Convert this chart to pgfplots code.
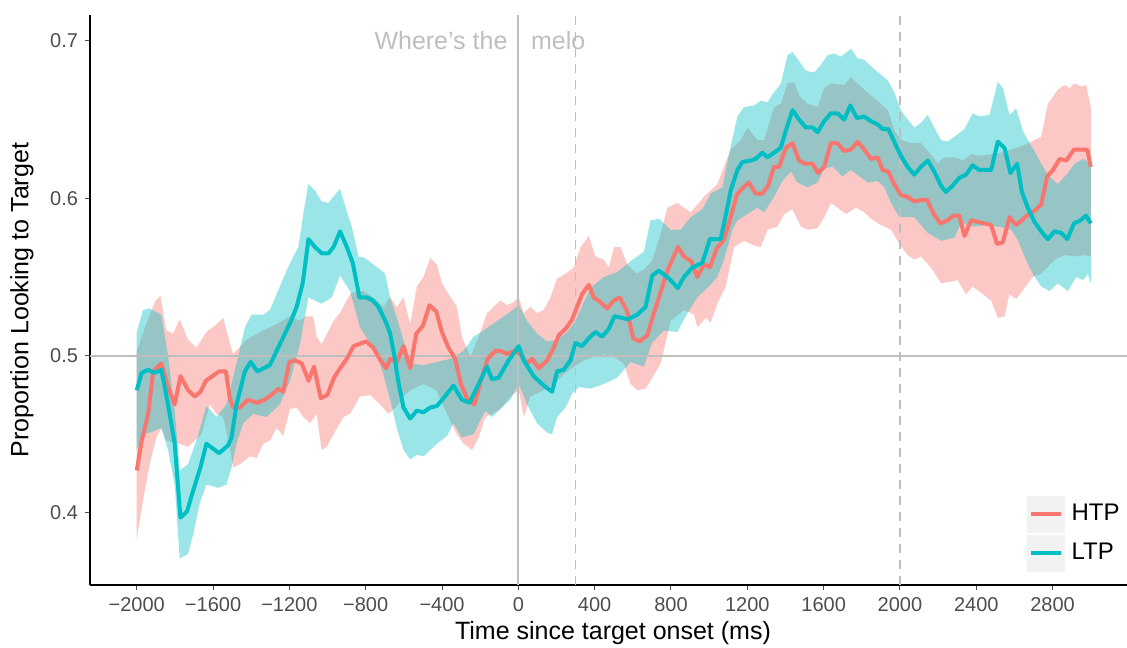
\documentclass[border=0pt]{standalone}
\usepackage{fontspec}
\setmainfont{Liberation Sans}
\usepackage{pgfplots}
\pgfplotsset{compat=1.18}
\usepgfplotslibrary{fillbetween}
\definecolor{htp}{HTML}{F8766D}
\definecolor{ltp}{HTML}{00BFC4}
\definecolor{refgray}{HTML}{BEBEBE}
\definecolor{tickgray}{HTML}{4D4D4D}
\definecolor{keybg}{HTML}{F2F2F2}
\begin{document}
\begin{tikzpicture}
\begin{axis}[
  at={(45pt,31pt)}, anchor=south west,
  scale only axis, width=518.5pt, height=285pt,
  xmin=-2245, xmax=3190, ymin=0.3542, ymax=0.7165,
  axis lines=left, axis line style={-, black, line width=0.8pt},
  xtick={-2000,-1600,-1200,-800,-400,0,400,800,1200,1600,2000,2400,2800},
  xticklabels={−2000,−1600,−1200,−800,−400,0,400,800,1200,1600,2000,2400,2800},
  ytick={0.4,0.5,0.6,0.7}, yticklabels={0.4,0.5,0.6,0.7},
  tick align=outside, major tick length=2.5pt,
  tick style={tickgray, line width=0.5pt},
  ticklabel style={font=\fontsize{10}{12}\selectfont, text=tickgray},
  xlabel={Time since target onset (ms)}, ylabel={Proportion Looking to Target},
  every axis x label/.style={at={(axis description cs:0.5043,0)}, anchor=center, yshift=-24pt,
    font=\fontsize{12.5}{15}\selectfont},
  every axis y label/.style={at={(axis description cs:-0.0656,0.5)}, anchor=center, rotate=90,
    font=\fontsize{12.5}{15}\selectfont},
  legend style={at={(axis description cs:1,0)}, anchor=south east, draw=none, fill=none,
    font=\fontsize{12}{14}\selectfont, row sep=1pt, inner sep=0pt, xshift=-2pt, yshift=6.5pt,
    nodes={inner sep=1.5pt}, /tikz/every odd column/.append style={column sep=2pt}},
  legend cell align=left,
  legend image code/.code={
    \fill[keybg, draw=none] (0pt,-9.25pt) rectangle (19pt,9.25pt);
    \draw[line width=2pt] (2pt,0pt) -- (17pt,0pt);
  },
]
% reference lines
\addplot[refgray, line width=0.9pt, forget plot] coordinates {(-2245,0.5) (3190,0.5)};
\addplot[refgray, line width=0.9pt, forget plot] coordinates {(0,0.3542) (0,0.7165)};
\addplot[refgray, line width=0.9pt, dash pattern=on 4.5pt off 3.5pt, forget plot] coordinates {(300,0.3542) (300,0.7165)};
\addplot[refgray, line width=0.9pt, dash pattern=on 4.5pt off 3.5pt, forget plot] coordinates {(2000,0.3542) (2000,0.7165)};

% HTP ribbon
\addplot[name path=hu, draw=none, forget plot] coordinates {
(-2000,0.503) (-1950,0.520) (-1906,0.534) (-1876,0.538) (-1845,0.516) (-1810,0.514) (-1775,0.523)
(-1731,0.510) (-1687,0.505) (-1635,0.515) (-1591,0.519) (-1547,0.524) (-1521,0.512) (-1495,0.501)
(-1425,0.510) (-1337,0.516) (-1267,0.520) (-1197,0.525) (-1145,0.522) (-1118,0.525) (-1075,0.525)
(-1057,0.512) (-1031,0.507) (-969,0.522) (-935,0.527) (-882,0.539) (-847,0.541) (-812,0.541)
(-760,0.537) (-707,0.531) (-672,0.537) (-637,0.531) (-602,0.537) (-567,0.520) (-532,0.544)
(-497,0.550) (-462,0.562) (-427,0.558) (-401,0.546) (-366,0.539) (-322,0.531) (-296,0.512)
(-252,0.499) (-208,0.512) (-164,0.527) (-130,0.531) (-95,0.535) (-60,0.532) (-25,0.534)
(2,0.537) (28,0.527) (63,0.531) (98,0.527) (133,0.529) (168,0.537) (203,0.549) (247,0.552)
(291,0.556) (326,0.569) (369,0.576) (404,0.563) (448,0.561) (474,0.556) (501,0.569) (536,0.569)
(571,0.558) (620,0.552) (660,0.555) (700,0.560) (740,0.575) (781,0.594) (833,0.597) (903,0.591)
(973,0.601) (1043,0.609) (1113,0.631) (1166,0.637) (1201,0.645) (1253,0.637) (1288,0.637)
(1341,0.658) (1376,0.660) (1411,0.673) (1446,0.674) (1472,0.665) (1516,0.660) (1568,0.658)
(1603,0.670) (1638,0.673) (1708,0.672) (1743,0.677) (1778,0.673) (1831,0.667) (1883,0.662)
(1936,0.656) (1971,0.643) (2006,0.637) (2058,0.635) (2110,0.635) (2162,0.628) (2197,0.622)
(2232,0.626) (2285,0.626) (2329,0.624) (2373,0.628) (2425,0.627) (2478,0.628) (2530,0.629)
(2583,0.631) (2635,0.633) (2688,0.636) (2740,0.639) (2775,0.660) (2827,0.669) (2863,0.672)
(2889,0.670) (2915,0.673) (2950,0.671) (2976,0.672) (3000,0.658)};
\addplot[name path=hl, draw=none, forget plot] coordinates {
(-2000,0.384) (-1967,0.408) (-1932,0.431) (-1897,0.448) (-1871,0.454) (-1845,0.446) (-1775,0.444)
(-1731,0.442) (-1696,0.446) (-1661,0.450) (-1617,0.469) (-1582,0.463) (-1547,0.461) (-1510,0.440)
(-1495,0.429) (-1459,0.431) (-1407,0.436) (-1372,0.435) (-1337,0.444) (-1302,0.446) (-1267,0.454)
(-1232,0.449) (-1197,0.466) (-1162,0.467) (-1127,0.461) (-1092,0.457) (-1057,0.463) (-1031,0.440)
(-1004,0.442) (-969,0.450) (-917,0.461) (-882,0.463) (-830,0.474) (-777,0.475) (-725,0.469)
(-681,0.463) (-637,0.468) (-602,0.474) (-567,0.478) (-497,0.482) (-430,0.478) (-374,0.463)
(-322,0.450) (-287,0.444) (-243,0.440) (-208,0.448) (-173,0.461) (-138,0.463) (-95,0.466)
(-42,0.474) (2,0.478) (28,0.461) (63,0.474) (133,0.478) (186,0.482) (238,0.488) (291,0.493)
(343,0.497) (396,0.499) (448,0.501) (501,0.499) (553,0.495) (588,0.482) (623,0.478) (667,0.479)
(702,0.486) (746,0.495) (798,0.522) (868,0.529) (921,0.526) (938,0.518) (982,0.524) (1008,0.521)
(1043,0.533) (1087,0.544) (1131,0.569) (1183,0.573) (1236,0.570) (1271,0.569) (1306,0.580)
(1358,0.582) (1393,0.590) (1437,0.593) (1481,0.582) (1516,0.580) (1568,0.581) (1603,0.588)
(1638,0.597) (1673,0.594) (1717,0.590) (1769,0.594) (1813,0.591) (1848,0.587) (1901,0.583)
(1953,0.580) (1997,0.571) (2040,0.564) (2075,0.561) (2110,0.563) (2162,0.556) (2215,0.546)
(2267,0.547) (2302,0.548) (2346,0.539) (2381,0.544) (2434,0.539) (2478,0.535) (2513,0.524)
(2548,0.525) (2574,0.539) (2609,0.536) (2653,0.543) (2696,0.550) (2740,0.552) (2810,0.561)
(2863,0.564) (2915,0.563) (2968,0.564) (3000,0.563)};
\addplot[htp, fill opacity=0.4, draw=none, forget plot] fill between[of=hu and hl];

% HTP line
\addplot[htp, line width=2pt, line join=round] coordinates {
(-2000,0.427) (-1974,0.446) (-1940,0.463) (-1914,0.490) (-1871,0.495) (-1836,0.480) (-1801,0.469)
(-1771,0.487) (-1731,0.478) (-1696,0.474) (-1666,0.477) (-1638,0.484) (-1603,0.487) (-1568,0.490)
(-1533,0.490) (-1512,0.473) (-1495,0.467) (-1459,0.467) (-1416,0.472) (-1372,0.470) (-1328,0.472)
(-1284,0.476) (-1258,0.479) (-1232,0.477) (-1200,0.496) (-1171,0.497) (-1135,0.495) (-1100,0.484)
(-1071,0.493) (-1036,0.473) (-1001,0.475) (-966,0.486) (-934,0.492) (-899,0.498) (-864,0.506)
(-798,0.509) (-760,0.505) (-728,0.498) (-693,0.492) (-672,0.498) (-637,0.496) (-602,0.506)
(-567,0.492) (-535,0.514) (-500,0.519) (-466,0.532) (-430,0.528) (-401,0.515) (-366,0.505)
(-331,0.498) (-301,0.482) (-266,0.472) (-231,0.469) (-196,0.484) (-161,0.498) (-121,0.503)
(-94,0.503) (-59,0.501) (-25,0.503) (10,0.501) (46,0.495) (72,0.498) (107,0.492) (151,0.497)
(185,0.505) (212,0.513) (247,0.517) (282,0.523) (308,0.531) (334,0.539) (369,0.545) (395,0.537)
(430,0.534) (465,0.530) (500,0.535) (532,0.537) (571,0.528) (602,0.511) (637,0.509) (676,0.513)
(710,0.527) (737,0.537) (781,0.554) (836,0.569) (868,0.563) (906,0.560) (938,0.550) (973,0.558)
(1004,0.556) (1039,0.568) (1078,0.574) (1113,0.588) (1144,0.602) (1180,0.607) (1209,0.610)
(1244,0.603) (1279,0.603) (1309,0.608) (1340,0.620) (1366,0.620) (1402,0.632) (1437,0.635)
(1471,0.624) (1501,0.622) (1542,0.622) (1571,0.616) (1603,0.620) (1638,0.635) (1673,0.635)
(1708,0.630) (1743,0.631) (1778,0.636) (1813,0.631) (1848,0.625) (1883,0.626) (1909,0.618)
(1939,0.617) (1970,0.609) (2005,0.602) (2040,0.601) (2075,0.598) (2110,0.599) (2142,0.599)
(2177,0.590) (2212,0.584) (2250,0.586) (2282,0.589) (2311,0.589) (2338,0.576) (2373,0.586)
(2408,0.585) (2443,0.584) (2478,0.583) (2509,0.571) (2539,0.572) (2574,0.588) (2609,0.583)
(2639,0.586) (2674,0.590) (2705,0.592) (2740,0.596) (2772,0.614) (2802,0.618) (2837,0.625)
(2872,0.624) (2912,0.631) (2946,0.631) (2982,0.631) (3000,0.620)};

% LTP ribbon
\addplot[name path=lu, draw=none, forget plot] coordinates {
(-2000,0.515) (-1967,0.529) (-1932,0.530) (-1871,0.526) (-1836,0.500) (-1801,0.465) (-1775,0.427)
(-1731,0.431) (-1687,0.446) (-1635,0.468) (-1582,0.461) (-1530,0.469) (-1477,0.495) (-1433,0.518)
(-1398,0.526) (-1337,0.526) (-1302,0.529) (-1267,0.539) (-1215,0.554) (-1180,0.563) (-1153,0.569)
(-1127,0.590) (-1101,0.609) (-1066,0.605) (-1031,0.598) (-996,0.597) (-935,0.606) (-900,0.592)
(-873,0.582) (-838,0.563) (-803,0.562) (-760,0.558) (-698,0.552) (-672,0.537) (-637,0.524)
(-602,0.510) (-567,0.495) (-497,0.494) (-427,0.496) (-357,0.498) (-287,0.503) (-235,0.512)
(-182,0.516) (-112,0.522) (-51,0.527) (2,0.532) (46,0.522) (98,0.514) (151,0.509) (203,0.510)
(256,0.515) (299,0.522) (340,0.533) (378,0.543) (448,0.550) (518,0.553) (588,0.560) (658,0.566) (693,0.586)
(737,0.587) (798,0.580) (851,0.580) (903,0.588) (964,0.593) (1008,0.603) (1069,0.607) (1113,0.633)
(1148,0.652) (1183,0.658) (1236,0.659) (1271,0.662) (1306,0.661) (1332,0.666) (1376,0.673)
(1411,0.691) (1437,0.693) (1472,0.687) (1507,0.681) (1551,0.680) (1586,0.685) (1621,0.691)
(1656,0.692) (1691,0.690) (1743,0.695) (1778,0.689) (1813,0.688) (1866,0.682) (1936,0.675)
(1971,0.667) (2005,0.656) (2041,0.650) (2076,0.645) (2111,0.648) (2145,0.653) (2215,0.637)
(2250,0.636) (2338,0.644) (2381,0.654) (2416,0.652) (2469,0.653) (2513,0.674) (2539,0.670)
(2574,0.653) (2609,0.657) (2644,0.643) (2670,0.637) (2705,0.630) (2740,0.622) (2775,0.615)
(2827,0.609) (2880,0.616) (2915,0.622) (2959,0.625) (3000,0.622)};
\addplot[name path=ll, draw=none, forget plot] coordinates {
(-2000,0.440) (-1967,0.450) (-1932,0.451) (-1871,0.454) (-1836,0.440) (-1801,0.418) (-1775,0.371)
(-1731,0.374) (-1705,0.386) (-1670,0.406) (-1635,0.418) (-1573,0.416) (-1530,0.418) (-1503,0.429)
(-1477,0.444) (-1442,0.457) (-1390,0.463) (-1320,0.461) (-1250,0.469) (-1197,0.484) (-1145,0.507)
(-1101,0.537) (-1031,0.533) (-978,0.537) (-935,0.551) (-882,0.541) (-830,0.518) (-777,0.508)
(-740,0.500) (-707,0.488) (-672,0.472) (-637,0.454) (-602,0.440) (-567,0.434) (-532,0.437) (-497,0.436)
(-427,0.444) (-374,0.449) (-340,0.457) (-296,0.448) (-235,0.450) (-173,0.465) (-138,0.461)
(-86,0.467) (-42,0.472) (2,0.482) (46,0.469) (98,0.457) (151,0.451) (177,0.450) (203,0.461)
(247,0.467) (282,0.476) (317,0.480) (378,0.479) (448,0.482) (518,0.486) (588,0.496) (658,0.493)
(700,0.508) (763,0.516) (833,0.515) (886,0.527) (938,0.537) (999,0.544) (1043,0.550) (1078,0.561)
(1122,0.580) (1148,0.586) (1201,0.590) (1253,0.594) (1288,0.591) (1341,0.601) (1384,0.611)
(1428,0.617) (1463,0.610) (1516,0.607) (1568,0.610) (1603,0.619) (1647,0.620) (1699,0.614)
(1743,0.618) (1787,0.614) (1831,0.610) (1883,0.611) (1918,0.607) (1953,0.597) (1997,0.588)
(2075,0.588) (2145,0.578) (2215,0.573) (2285,0.575) (2320,0.584) (2390,0.582) (2460,0.583)
(2513,0.582) (2583,0.580) (2618,0.573) (2653,0.563) (2696,0.552) (2740,0.544) (2784,0.541)
(2827,0.546) (2880,0.541) (2924,0.550) (2959,0.548) (2985,0.552) (3000,0.546)};
\addplot[ltp, fill opacity=0.4, draw=none, forget plot] fill between[of=lu and ll];

% LTP line
\addplot[ltp, line width=2pt, line join=round] coordinates {
(-2000,0.478) (-1974,0.489) (-1940,0.491) (-1906,0.489) (-1871,0.491) (-1836,0.469) (-1801,0.444)
(-1771,0.397) (-1736,0.401) (-1705,0.414) (-1666,0.429) (-1635,0.444) (-1568,0.438) (-1521,0.443)
(-1503,0.448) (-1477,0.469) (-1433,0.490) (-1403,0.496) (-1368,0.490) (-1302,0.494) (-1267,0.503)
(-1223,0.514) (-1188,0.523) (-1162,0.531) (-1130,0.546) (-1100,0.574) (-1066,0.569) (-1030,0.565)
(-995,0.565) (-969,0.569) (-934,0.579) (-899,0.569) (-868,0.559) (-833,0.537) (-794,0.537)
(-763,0.535) (-733,0.531) (-693,0.521) (-672,0.514) (-650,0.500) (-630,0.484) (-602,0.467)
(-567,0.460) (-532,0.465) (-497,0.464) (-462,0.467) (-427,0.468) (-392,0.473) (-340,0.481)
(-296,0.472) (-256,0.470) (-208,0.482) (-164,0.493) (-138,0.485) (-103,0.486) (-51,0.497)
(2,0.506) (28,0.497) (80,0.487) (133,0.481) (177,0.477) (203,0.490) (238,0.491) (273,0.497)
(299,0.508) (334,0.506) (369,0.511) (404,0.515) (439,0.512) (474,0.517) (504,0.525) (544,0.524)
(574,0.523) (623,0.526) (667,0.531) (702,0.551) (737,0.554) (789,0.549) (836,0.543) (868,0.550)
(912,0.556) (964,0.559) (1004,0.574) (1060,0.574) (1087,0.589) (1113,0.605) (1148,0.618)
(1174,0.623) (1218,0.624) (1244,0.625) (1279,0.629) (1306,0.626) (1340,0.629) (1375,0.632)
(1402,0.643) (1437,0.656) (1471,0.650) (1507,0.645) (1542,0.645) (1568,0.642) (1603,0.649)
(1638,0.654) (1673,0.654) (1708,0.650) (1740,0.659) (1774,0.651) (1813,0.652) (1848,0.649)
(1883,0.647) (1909,0.644) (1939,0.644) (1970,0.636) (2005,0.627) (2040,0.620) (2075,0.615)
(2110,0.620) (2145,0.624) (2180,0.617) (2215,0.608) (2241,0.604) (2276,0.608) (2311,0.613)
(2346,0.615) (2381,0.621) (2416,0.618) (2478,0.618) (2513,0.636) (2548,0.632) (2579,0.616)
(2614,0.622) (2639,0.604) (2670,0.594) (2705,0.585) (2740,0.579) (2775,0.574) (2810,0.579)
(2845,0.578) (2877,0.574) (2912,0.584) (2946,0.586) (2976,0.589) (3000,0.584)};

\legend{HTP,LTP}

\node[refgray, anchor=east, font=\fontsize{12.5}{15}\selectfont, inner sep=0pt] at (axis cs:-55,0.7) {Where's the};
\node[refgray, anchor=west, font=\fontsize{12.5}{15}\selectfont, inner sep=0pt] at (axis cs:65,0.7) {melo};
\end{axis}
\pgfresetboundingbox
\useasboundingbox (0,0) rectangle (563.5pt,323.5pt);
\end{tikzpicture}
\end{document}
